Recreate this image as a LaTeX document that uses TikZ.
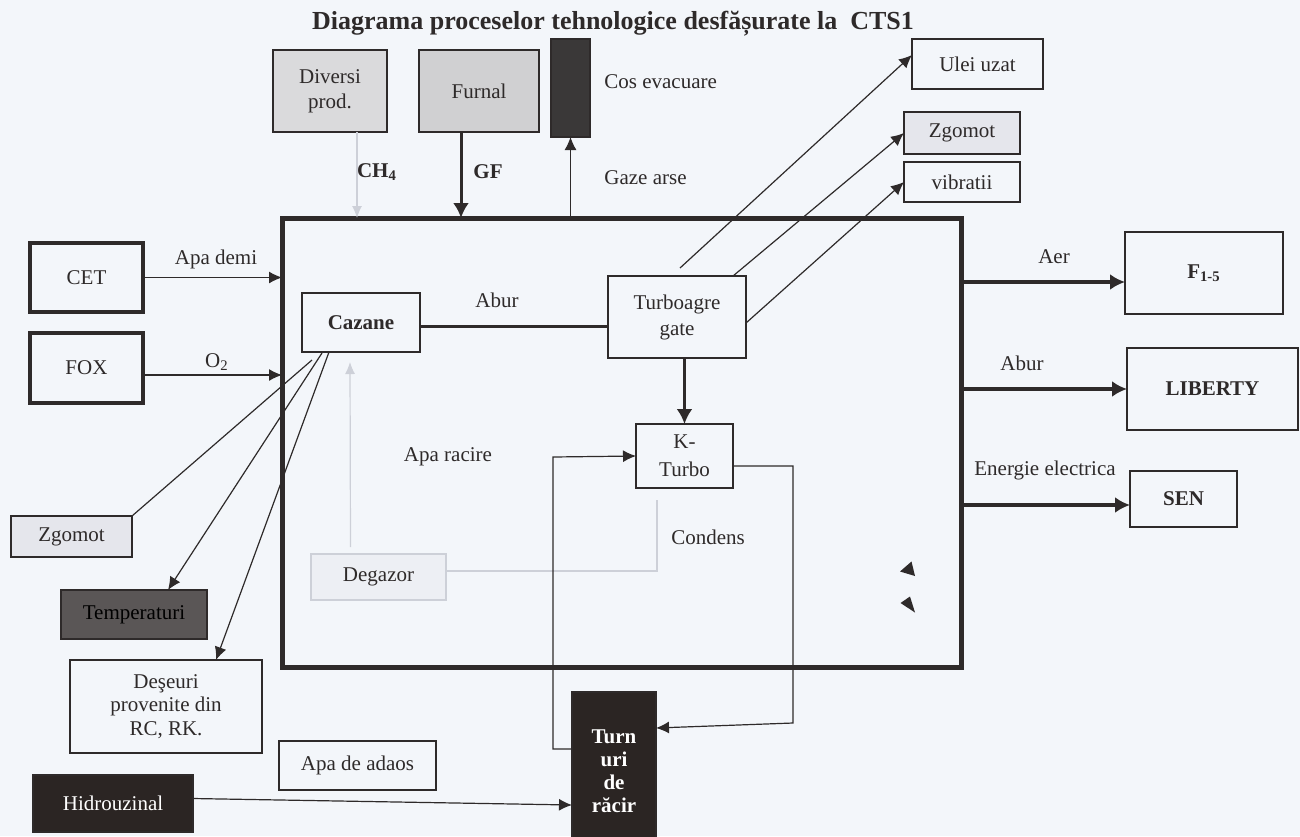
\documentclass[tikz,border=0pt]{standalone}
\usepackage{fontspec}
\setmainfont{Liberation Serif}
\usetikzlibrary{arrows.meta}

\definecolor{bgcol}{HTML}{F3F6FA}
\definecolor{ink}{HTML}{2E2A2A}
\definecolor{pale}{HTML}{CDD0D8}
\definecolor{divcol}{HTML}{DADADC}
\definecolor{furcol}{HTML}{D0D0D2}
\definecolor{chimcol}{HTML}{3A3838}
\definecolor{zgcol}{HTML}{E5E6EC}
\definecolor{tempcol}{HTML}{5A5656}
\definecolor{degcol}{HTML}{EDEFF4}
\definecolor{darkcol}{HTML}{2B2523}

\begin{document}
\fontsize{10.5}{12.5}\selectfont
\begin{tikzpicture}[x=0.5pt,y=-0.5pt,
  box/.style={draw=ink,line width=0.75pt,inner sep=0pt,outer sep=0pt,text=ink,align=center},
  thickbox/.style={box,line width=2pt},
  lbl/.style={text=ink},
  arr/.style={draw=ink,line width=0.6pt,-{Latex[length=6.5pt,width=6pt]}},
  fatarr/.style={draw=ink,line width=2pt,-{Latex[length=7.5pt,width=8pt]}},
  palearr/.style={draw=pale,line width=0.6pt,-{Latex[length=6pt,width=5pt]}}]
\useasboundingbox (0,0) rectangle (1300,836);
\clip (0,0) rectangle (1300,836);
\fill[bgcol] (0,0) rectangle (1300,836);

\node[lbl,font=\bfseries\fontsize{13}{15}\selectfont] (title) at (613,24) {Diagrama proceselor tehnologice desfășurate la\ \ CTS1};

% sources on top
\node[box,fill=divcol,minimum width=57pt,minimum height=41pt] (divp) at (330,91) {Diversi\\prod.};
\node[box,fill=furcol,minimum width=60pt,minimum height=41pt] (furnal) at (479,91) {Furnal};
\node[box,fill=chimcol,minimum width=19.5pt,minimum height=49pt] (cos) at (570.5,88) {};

% emissions of the turbines
\node[box,minimum width=65.5pt,minimum height=25pt] (ulei) at (977.5,64) {Ulei uzat};
\node[box,fill=zgcol,minimum width=58pt,minimum height=21pt] (zgtop) at (962,133) {Zgomot};
\node[box,minimum width=58pt,minimum height=20pt] (vibr) at (962,182) {vibratii};

% the plant
\node[box,line width=2.5pt,minimum width=339.5pt,minimum height=224.5pt] (cts) at (621.5,442.5) {};
\node[box,minimum width=59pt,minimum height=29.5pt,font=\bfseries] (cazane) at (361,322.5) {Cazane};
\node[box,minimum width=69pt,minimum height=41pt,font=\fontsize{10.5}{13}\selectfont] (turbo) at (677,317) {Turboagre\\gate};
\node[box,minimum width=48.5pt,minimum height=32pt,font=\fontsize{10.5}{14}\selectfont] (kturbo) at (684.5,456) {K-\\Turbo};
\node[box,draw=pale,fill=degcol,minimum width=67.5pt,minimum height=23pt] (degazor) at (378.5,577) {Degazor};

% inputs on the left
\node[thickbox,minimum width=56.5pt,minimum height=34.5pt] (cet) at (86.5,277.5) {CET};
\node[thickbox,minimum width=56.5pt,minimum height=35pt] (fox) at (86.5,368) {FOX};

% outputs on the right
\node[box,minimum width=79pt,minimum height=41pt,font=\bfseries] (f15) at (1204,273) {F\textsubscript{1-5}};
\node[box,minimum width=85.5pt,minimum height=41pt,font=\bfseries] (liberty) at (1212.5,389) {LIBERTY};
\node[box,minimum width=53.5pt,minimum height=28pt,font=\bfseries] (sen) at (1183.5,499) {SEN};

% boiler side effects
\node[box,fill=zgcol,minimum width=60.5pt,minimum height=20.5pt] (zgleft) at (71.5,536.5) {Zgomot};
\node[box,fill=tempcol,minimum width=73pt,minimum height=24.5pt,text=black] (temp) at (134,614.5) {Temperaturi};
\node[box,minimum width=96pt,minimum height=46.5pt,font=\fontsize{10.5}{11.75}\selectfont] (deseuri) at (166,706.5) {Deşeuri\\provenite din\\RC, RK.};

% cooling water
\node[box,minimum width=78.5pt,minimum height=24.5pt] (adaos) at (357.5,765.5) {Apa de adaos};
\node[box,fill=darkcol,minimum width=80pt,minimum height=28.5pt,text=white] (hidro) at (113,803.5) {Hidrouzinal};
\node[box,fill=darkcol,minimum width=42pt,minimum height=79pt,text=white,font=\bfseries\fontsize{10.5}{11.5}\selectfont] (turn) at (614,771) {Turn\\uri\\de\\răcir};

% labels
\node[lbl,font=\bfseries] (ch4) at (377,172) {CH\textsubscript{4}};
\node[lbl,font=\bfseries] (gf) at (488,172) {GF};
\node[lbl,anchor=west] (cosl) at (597,82) {Cos evacuare};
\node[lbl,anchor=west] (gaze) at (597,178) {Gaze arse};
\node[lbl] (demi) at (216,259) {Apa demi};
\node[lbl] (o2) at (217,362) {O\textsubscript{2}};
\node[lbl] (abur1) at (497,300) {Abur};
\node[lbl] (racire) at (448,457) {Apa racire};
\node[lbl] (condens) at (708,537) {Condens};
\node[lbl] (aer) at (1054,257) {Aer};
\node[lbl] (abur2) at (1022,363) {Abur};
\node[lbl] (energie) at (1045,470) {Energie electrica};

% free ends
\coordinate (ch4in) at (357,218);
\coordinate (gfin) at (461,218);
\coordinate (o2in) at (282,375);
\coordinate (aburmid) at (608,326);
\coordinate (ul) at (680,268);
\coordinate (zg) at (733,276);
\coordinate (vb) at (746,323);
\coordinate (cz1) at (312,360);
\coordinate (cz2) at (322,353);
\coordinate (cz3) at (329,352);
\coordinate (cdn) at (657,500);
\coordinate (loop) at (553,457);
\coordinate (ret) at (793,723);
\coordinate (aerout) at (961,282);
\coordinate (senout) at (961,505);

% connectors
\draw[palearr] (divp.south -| ch4in) -- (ch4in);
\draw[fatarr,line width=1.5pt] (furnal.south -| gfin) -- (gfin);
\draw[arr] (cos.south |- cts.north) -- (cos.south);
\draw[arr] (cet.east) -- (cet.east -| cts.west);
\draw[arr] (fox.east |- o2in) -- (o2in);
\draw[ink,line width=1.5pt] (cazane.east |- aburmid) -- (aburmid);
\draw[fatarr,line width=1.5pt] (kturbo.north |- turbo.south) -- (kturbo.north);
\draw[arr] (ul) -- ([yshift=4.5pt]ulei.west);
\draw[arr] (zg) -- (zgtop.west);
\draw[arr] (vb) -- (vibr.west);
\draw[ink,line width=0.6pt] (cz1) -- (zgleft.north east);
\draw[arr] (cz2) -- ([xshift=17pt]temp.north);
\draw[arr] (cz3) -- ([xshift=25pt]deseuri.north);
\draw[palearr] ([xshift=-14pt,yshift=3.5pt]degazor.north) -- ([xshift=-5.5pt,yshift=-5pt]cazane.south);
\draw[pale,line width=0.6pt] ([yshift=3pt]degazor.east) -| (cdn);
\draw[arr] ([yshift=-28.5pt]turn.north west) -| (loop) -- (kturbo.west);
\draw[arr] ([yshift=-5pt]kturbo.east) -| (ret) -- ([yshift=-18pt]turn.north east);
\draw[arr] ([yshift=2.5pt]hidro.east) -- ([yshift=-56.5pt]turn.north west);
\draw[fatarr] (aerout) -- (aerout -| f15.west);
\draw[fatarr] (liberty.west -| cts.east) -- (liberty.west);
\draw[fatarr] (senout) -- (senout -| sen.west);

% stray arrow heads
\fill[ink] (900,571.5) -- (911.5,561.5) -- (915,576) -- cycle;
\fill[ink] (900.5,603) -- (910,596.5) -- (915,612.5) -- cycle;
\end{tikzpicture}
\end{document}
